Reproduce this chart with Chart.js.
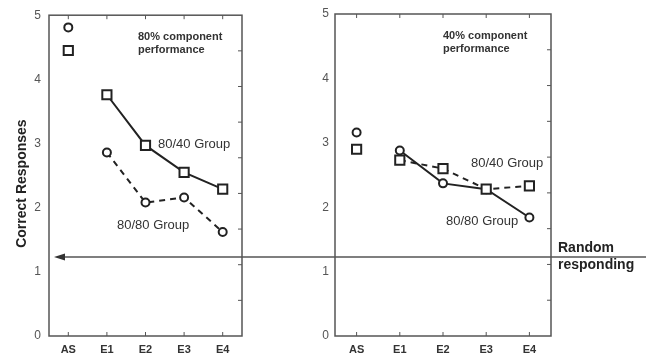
<!DOCTYPE html>
<html>
<head>
<meta charset="utf-8">
<script src="https://cdn.jsdelivr.net/npm/chart.js@4/dist/chart.umd.min.js"></script>
<style>
  html, body { margin: 0; padding: 0; background: #fff; }
  #wrap { position: relative; width: 646px; height: 360px; }
  #wrap canvas { position: absolute; left: 0; top: 0; }
</style>
</head>
<body>
<div id="wrap">
  <canvas id="leftChart" width="646" height="360"></canvas>
  <canvas id="rightChart" width="646" height="360"></canvas>
</div>
<script>
// data
const categories = ['AS', 'E1', 'E2', 'E3', 'E4'];
const left8040 = [4.45, 3.76, 2.97, 2.55, 2.29];
const left8080 = [4.81, 2.86, 2.08, 2.16, 1.62];
const right8080 = [3.16, 2.88, 2.37, 2.28, 1.84];
const right8040 = [2.90, 2.73, 2.60, 2.28, 2.33];
const yTicks = [0, 1, 2, 3, 4, 5];
const randomLevel = 1.23;

const FONT = '"Liberation Sans", Arial, sans-serif';
const AXIS = '#555';
const INK = '#222';

function series(label, values, shape, dashed) {
    return {
        label: label,
        data: values,
        borderColor: INK,
        borderWidth: 2,
        pointStyle: shape,
        pointRadius: shape === 'rect' ? 6.5 : 4,
        pointBorderWidth: 2,
        pointBackgroundColor: '#fff',
        pointBorderColor: INK,
        tension: 0,
        borderDash: dashed ? [6, 5] : [],
        // AS is not joined to the extinction sessions
        segment: {
            borderColor: ctx => ctx.p0DataIndex === 0 ? 'transparent' : INK
        }
    };
}

const framePlugin = {
    id: 'frame',
    afterDraw(chart) {
        const ctx = chart.ctx;
        const a = chart.chartArea;
        const x = chart.scales.x;
        const cfg = chart.options.plugins.frame;
        ctx.save();
        ctx.strokeStyle = AXIS;
        ctx.lineWidth = 1.5;
        ctx.strokeRect(a.left, a.top, a.right - a.left, a.bottom - a.top);

        ctx.lineWidth = 1;
        ctx.beginPath();
        categories.forEach((c, i) => {
            const px = x.getPixelForValue(i);
            ctx.moveTo(px, a.top);
            ctx.lineTo(px, a.top + 4);
            ctx.moveTo(px, a.bottom);
            ctx.lineTo(px, a.bottom - 4);
        });
        for (let k = 1; k < 9; k++) {
            const py = a.top + (a.bottom - a.top) * k / 9;
            ctx.moveTo(a.right, py);
            ctx.lineTo(a.right - 4, py);
        }
        ctx.stroke();

        ctx.fillStyle = '#333';
        ctx.textBaseline = 'middle';
        ctx.textAlign = 'left';
        ctx.font = 'bold 11px ' + FONT;
        cfg.heading.forEach((t, i) => ctx.fillText(t, cfg.headX, cfg.headY + i * 13));
        ctx.font = '13px ' + FONT;
        cfg.notes.forEach(n => ctx.fillText(n.text, n.x, n.y));

        if (cfg.random) {
            const ry = chart.scales.y.getPixelForValue(randomLevel);
            const tip = a.left + 5;
            ctx.strokeStyle = AXIS;
            ctx.lineWidth = 1.5;
            ctx.beginPath();
            ctx.moveTo(646, ry);
            ctx.lineTo(tip + 6, ry);
            ctx.stroke();
            ctx.fillStyle = '#333';
            ctx.beginPath();
            ctx.moveTo(tip, ry);
            ctx.lineTo(tip + 11, ry - 3.5);
            ctx.lineTo(tip + 11, ry + 3.5);
            ctx.closePath();
            ctx.fill();

            ctx.fillStyle = '#222';
            ctx.font = 'bold 14px ' + FONT;
            ctx.fillText('Random', 558, 248);
            ctx.fillText('responding', 558, 265);

            ctx.save();
            ctx.translate(22, (a.top + a.bottom) / 2 + 8);
            ctx.rotate(-Math.PI / 2);
            ctx.textAlign = 'center';
            ctx.fillText('Correct Responses', 0, 0);
            ctx.restore();
        }
        ctx.restore();
    }
};

function makePanel(canvasId, sets, padLeft, padRight, yPad, frame) {
    return new Chart(document.getElementById(canvasId), {
        type: 'line',
        data: { labels: categories, datasets: sets },
        plugins: [framePlugin],
        options: {
            responsive: false,
            animation: false,
            layout: { padding: { left: padLeft, right: padRight, top: 14, bottom: 0 } },
            plugins: {
                legend: { display: false },
                tooltip: { enabled: false },
                frame: frame
            },
            scales: {
                x: {
                    offset: true,
                    grid: { display: false, drawTicks: false },
                    border: { display: false },
                    ticks: {
                        padding: 7,
                        color: '#333',
                        font: { family: FONT, size: 11, weight: 'bold' }
                    },
                    afterFit(s) { s.height = 24; }
                },
                y: {
                    min: yTicks[0],
                    max: yTicks[yTicks.length - 1],
                    grid: { display: false, drawTicks: false },
                    border: { display: false },
                    afterBuildTicks(s) { s.ticks = yTicks.map(v => ({ value: v })); },
                    ticks: {
                        padding: yPad,
                        color: '#555',
                        font: { family: FONT, size: 12 }
                    },
                    afterFit(s) { s.width = 20; }
                }
            }
        }
    });
}

makePanel('leftChart', [
    series('80/40 Group', left8040, 'rect', false),
    series('80/80 Group', left8080, 'circle', true)
], 29, 404, 8, {
    heading: ['80% component', 'performance'],
    headX: 138, headY: 37,
    notes: [
        { text: '80/40 Group', x: 158, y: 144 },
        { text: '80/80 Group', x: 117, y: 225 }
    ],
    random: true
});

makePanel('rightChart', [
    series('80/40 Group', right8040, 'rect', true),
    series('80/80 Group', right8080, 'circle', false)
], 315, 95, 6, {
    heading: ['40% component', 'performance'],
    headX: 443, headY: 36,
    notes: [
        { text: '80/40 Group', x: 471, y: 163 },
        { text: '80/80 Group', x: 446, y: 221 }
    ],
    random: false
});
</script>
</body>
</html>
